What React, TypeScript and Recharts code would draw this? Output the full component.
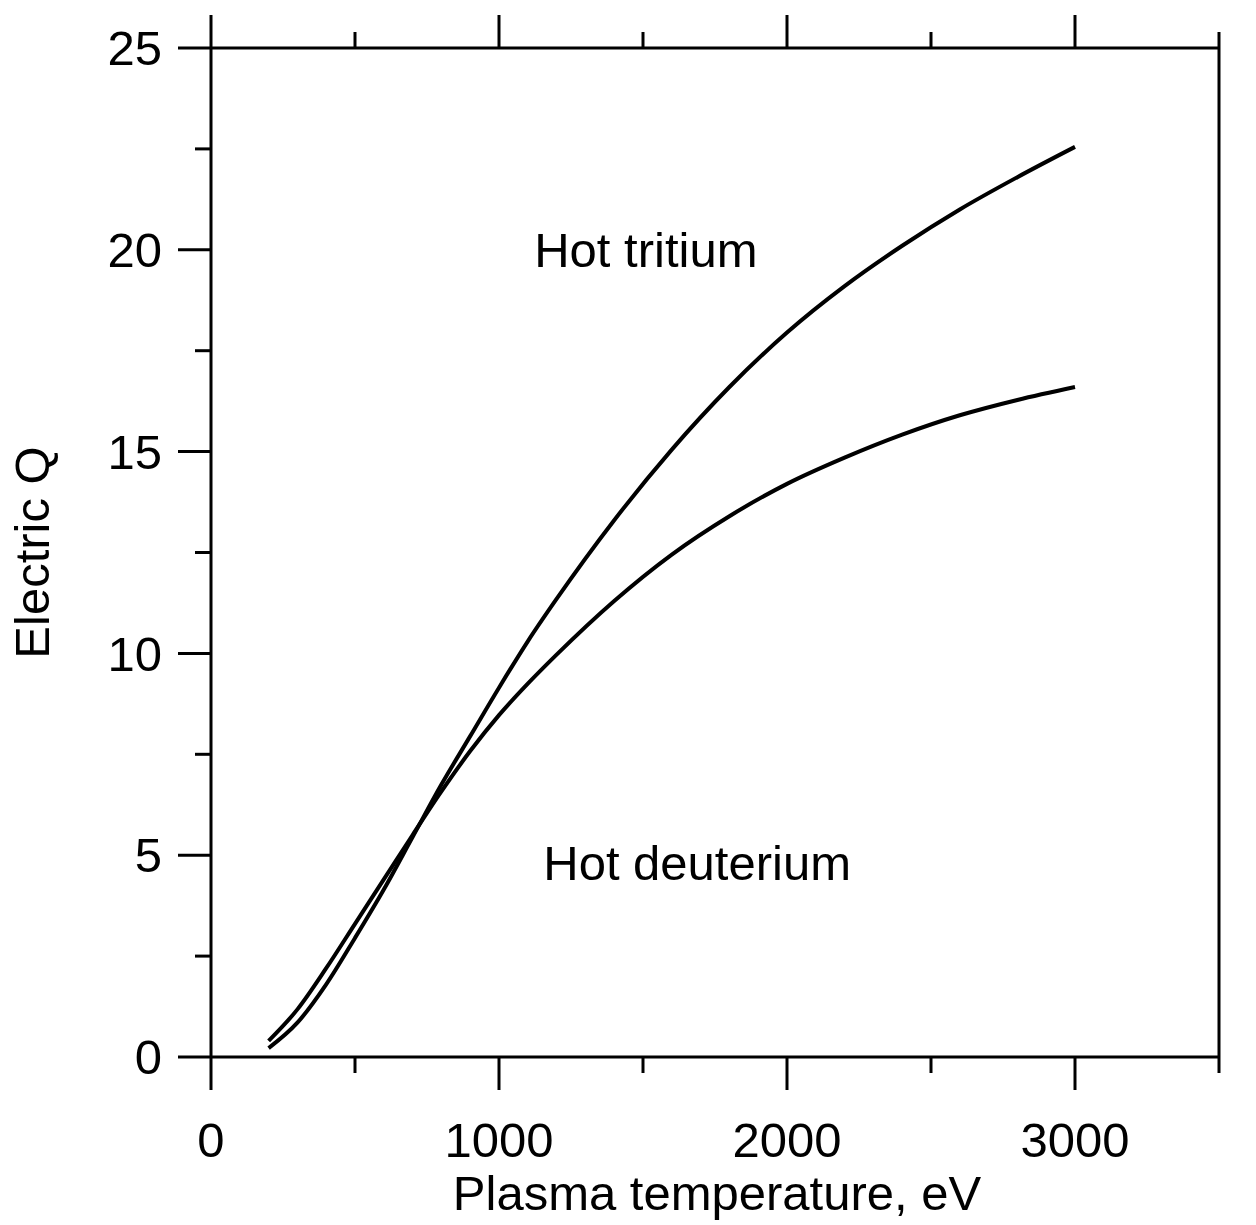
import React from 'react';
import { LineChart, Line, XAxis, YAxis, ReferenceDot } from 'recharts';

// Plasma temperature (eV)
const temps = [200, 300, 400, 500, 600, 700, 800, 900, 1000, 1100, 1200, 1400, 1600, 1800, 2000, 2200, 2400, 2600, 2800, 3000];
// Electric Q, hot tritium
const tritiumQ = [0.22, 0.85, 1.8, 2.95, 4.15, 5.45, 6.75, 7.95, 9.15, 10.3, 11.35, 13.3, 15.05, 16.6, 17.95, 19.1, 20.1, 21.0, 21.8, 22.55];
// Electric Q, hot deuterium
const deuteriumQ = [0.4, 1.18, 2.2, 3.3, 4.4, 5.5, 6.58, 7.58, 8.47, 9.25, 9.97, 11.3, 12.45, 13.4, 14.2, 14.85, 15.42, 15.9, 16.28, 16.6];

const xTicks = [0, 500, 1000, 1500, 2000, 2500, 3000, 3500];
const xLabeled = [0, 1000, 2000, 3000];
const yTicks = [0, 2.5, 5, 7.5, 10, 12.5, 15, 17.5, 20, 22.5, 25];
const yLabeled = [0, 5, 10, 15, 20, 25];

const annotations = [
  { x: 1510, y: 20.0, text: 'Hot tritium' },
  { x: 1688, y: 4.81, text: 'Hot deuterium' },
];

const data = temps.map((t, i) => ({ t, tritium: tritiumQ[i], deuterium: deuteriumQ[i] }));

const FONT = '"Liberation Sans", Arial, sans-serif';
const FS = 49;
const MAJ = 33;
const MIN = 16;
const SW = 3;

const BottomTick = (props: any) => {
  const { x, y, payload } = props;
  const v = payload.value;
  const major = xLabeled.includes(v);
  return (
    <g>
      <line x1={x} x2={x} y1={y} y2={y + (major ? MAJ : MIN)} stroke="#000" strokeWidth={SW} />
      {major && (
        <text x={x} y={y + 100} textAnchor="middle" fontSize={FS} fontFamily={FONT} fill="#000">
          {v}
        </text>
      )}
    </g>
  );
};

const TopTick = (props: any) => {
  const { x, y, payload } = props;
  const major = xLabeled.includes(payload.value);
  return <line x1={x} x2={x} y1={y} y2={y - (major ? MAJ : MIN)} stroke="#000" strokeWidth={SW} />;
};

const LeftTick = (props: any) => {
  const { x, y, payload } = props;
  const v = payload.value;
  const major = yLabeled.includes(v);
  return (
    <g>
      <line x1={x} x2={x - (major ? MAJ : MIN)} y1={y} y2={y} stroke="#000" strokeWidth={SW} />
      {major && (
        <text x={x - 49} y={y} dy="0.35em" textAnchor="end" fontSize={FS} fontFamily={FONT} fill="#000">
          {v}
        </text>
      )}
    </g>
  );
};

const RightTick = (props: any) => {
  const { x, y, payload } = props;
  const major = yLabeled.includes(payload.value);
  return <line x1={x} x2={x + (major ? MAJ : MIN)} y1={y} y2={y} stroke="#000" strokeWidth={SW} />;
};

const XTitle = (props: any) => {
  const { viewBox } = props;
  return (
    <text
      x={viewBox.x + viewBox.width / 2 + 2}
      y={viewBox.y + viewBox.height - 15}
      textAnchor="middle"
      fontSize={FS}
      fontFamily={FONT}
      fill="#000"
    >
      Plasma temperature, eV
    </text>
  );
};

const YTitle = (props: any) => {
  const { viewBox } = props;
  const cx = viewBox.x + 41;
  const cy = viewBox.y + viewBox.height / 2;
  return (
    <text
      x={cx}
      y={cy}
      transform={`rotate(-90, ${cx}, ${cy})`}
      textAnchor="middle"
      fontSize={FS}
      fontFamily={FONT}
      fill="#000"
    >
      Electric Q
    </text>
  );
};

export default function App() {
  return (
    <div style={{ width: 1240, height: 1217, fontFamily: FONT }}>
      <LineChart width={1240} height={1217} data={data} margin={{ top: 0, right: 0, bottom: 0, left: 0 }}>
        <XAxis
          dataKey="t"
          type="number"
          domain={[0, 3500]}
          ticks={xTicks}
          interval={0}
          height={168}
          tickLine={false}
          tickSize={0}
          tickMargin={0}
          axisLine={{ stroke: '#000', strokeWidth: SW }}
          tick={<BottomTick />}
          label={<XTitle />}
        />
        <XAxis
          xAxisId="top"
          orientation="top"
          dataKey="t"
          type="number"
          domain={[0, 3500]}
          ticks={xTicks}
          interval={0}
          height={40}
          tickLine={false}
          tickSize={0}
          tickMargin={0}
          axisLine={{ stroke: '#000', strokeWidth: SW }}
          tick={<TopTick />}
        />
        <YAxis
          type="number"
          domain={[0, 25]}
          ticks={yTicks}
          interval={0}
          width={203}
          tickLine={false}
          tickSize={0}
          tickMargin={0}
          axisLine={{ stroke: '#000', strokeWidth: SW }}
          tick={<LeftTick />}
          label={<YTitle />}
        />
        <YAxis
          yAxisId="right"
          orientation="right"
          type="number"
          domain={[0, 25]}
          ticks={yTicks}
          interval={0}
          width={29}
          tickLine={false}
          tickSize={0}
          tickMargin={0}
          axisLine={{ stroke: '#000', strokeWidth: SW }}
          tick={<RightTick />}
        />
        <Line
          type="monotone"
          dataKey="tritium"
          stroke="#000"
          strokeWidth={4}
          dot={false}
          activeDot={false}
          isAnimationActive={false}
        />
        <Line
          type="monotone"
          dataKey="deuterium"
          stroke="#000"
          strokeWidth={4}
          dot={false}
          activeDot={false}
          isAnimationActive={false}
        />
        {annotations.map((a) => (
          <ReferenceDot
            key={a.text}
            x={a.x}
            y={a.y}
            r={0}
            stroke="none"
            fill="none"
            label={{ value: a.text, position: 'center', fontSize: FS, fontFamily: FONT, fill: '#000' }}
          />
        ))}
      </LineChart>
    </div>
  );
}
